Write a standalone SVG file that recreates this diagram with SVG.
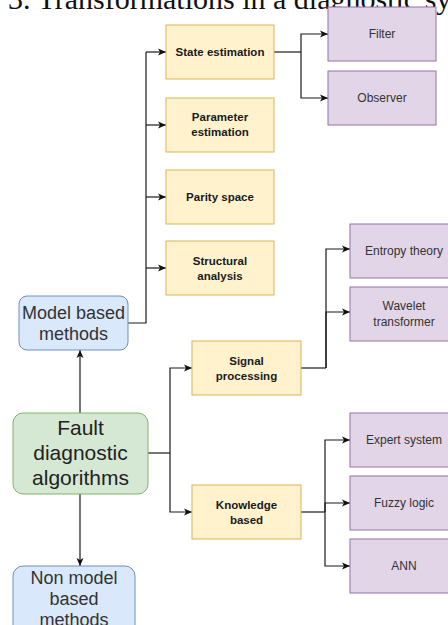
<svg xmlns="http://www.w3.org/2000/svg" width="448" height="625" viewBox="0 0 448 625">
<defs>
<marker id="arr" markerWidth="9" markerHeight="8" refX="8" refY="4" orient="auto" markerUnits="userSpaceOnUse">
<path d="M0,0.5 L8,4 L0,7.5 L2,4 z" fill="#111"/>
</marker>
<style>
.y{fill:#fff2cc;stroke:#d6b656;stroke-width:1}
.p{fill:#e1d5e7;stroke:#9673a6;stroke-width:1}
.b{fill:#dae8fc;stroke:#6c8ebf;stroke-width:1}
.g{fill:#d5e8d4;stroke:#82b366;stroke-width:1}
.yt{font-family:"Liberation Sans",Arial,sans-serif;font-size:11.5px;font-weight:bold;fill:#1a1a1a;text-anchor:middle}
.pt{font-family:"Liberation Sans",Arial,sans-serif;font-size:12px;fill:#333;text-anchor:middle}
.bt{font-family:"Liberation Sans",Arial,sans-serif;font-size:18px;fill:#333;text-anchor:middle}
.gt{font-family:"Liberation Sans",Arial,sans-serif;font-size:21px;fill:#222;text-anchor:middle}
.c{fill:none;stroke:#1a1a1a;stroke-width:1.2}
.ca{fill:none;stroke:#1a1a1a;stroke-width:1.2;marker-end:url(#arr)}
</style>
</defs>
<rect width="448" height="625" fill="#fff"/>
<text x="8" y="9" font-family="Liberation Serif,'Times New Roman',serif" font-size="30" fill="#111">3. Transformations in a diagnostic sy</text>

<g id="connectors">
<path class="c" d="M128,323 H146 V52"/>
<path class="ca" d="M146,52 H166"/>
<path class="ca" d="M146,125 H166"/>
<path class="ca" d="M146,197 H166"/>
<path class="ca" d="M146,268 H166"/>
<path class="c" d="M274,52 H301"/>
<path class="ca" d="M301,52 V34 H328"/>
<path class="ca" d="M301,52 V98 H328"/>
<path class="ca" d="M80,413 V350"/>
<path class="ca" d="M80,494 V566"/>
<path class="c" d="M148,453 H170"/>
<path class="ca" d="M170,453 V368 H192"/>
<path class="ca" d="M170,453 V512 H192"/>
<path class="c" d="M301,368 H326"/>
<path class="ca" d="M326,368 V249 H350"/>
<path class="ca" d="M326,368 V312 H350"/>
<path class="c" d="M301,512 H325"/>
<path class="ca" d="M325,512 V440 H350"/>
<path class="ca" d="M325,512 V503 H350"/>
<path class="ca" d="M325,512 V566 H350"/>
</g>

<g id="state-estimation"><rect class="y" x="166" y="25" width="108" height="54"/><text class="yt" x="220" y="56">State estimation</text></g>
<g id="parameter-estimation"><rect class="y" x="166" y="98" width="108" height="54"/><text class="yt" x="220" y="121">Parameter</text><text class="yt" x="220" y="136">estimation</text></g>
<g id="parity-space"><rect class="y" x="166" y="170" width="108" height="54"/><text class="yt" x="220" y="201">Parity space</text></g>
<g id="structural-analysis"><rect class="y" x="166" y="241" width="108" height="54"/><text class="yt" x="220" y="265">Structural</text><text class="yt" x="220" y="280">analysis</text></g>

<g id="filter"><rect class="p" x="328" y="7" width="108" height="54"/><text class="pt" x="382" y="38">Filter</text></g>
<g id="observer"><rect class="p" x="328" y="71" width="108" height="54"/><text class="pt" x="382" y="102">Observer</text></g>

<g id="model-based"><rect class="b" x="19" y="296" width="109" height="54" rx="8"/><text class="bt" x="73.5" y="319">Model based</text><text class="bt" x="73.5" y="340">methods</text></g>
<g id="fault-diagnostic"><rect class="g" x="13" y="413" width="135" height="81" rx="10"/><text class="gt" x="80.5" y="435">Fault</text><text class="gt" x="80.5" y="460">diagnostic</text><text class="gt" x="80.5" y="485">algorithms</text></g>
<g id="non-model-based"><rect class="b" x="13" y="566" width="122" height="75" rx="10"/><text class="bt" x="74" y="584">Non model</text><text class="bt" x="74" y="605">based</text><text class="bt" x="74" y="626">methods</text></g>

<g id="signal-processing"><rect class="y" x="192" y="341" width="109" height="54"/><text class="yt" x="246.5" y="365">Signal</text><text class="yt" x="246.5" y="380">processing</text></g>
<g id="knowledge-based"><rect class="y" x="192" y="485" width="109" height="54"/><text class="yt" x="246.5" y="509">Knowledge</text><text class="yt" x="246.5" y="524">based</text></g>

<g id="entropy-theory"><rect class="p" x="350" y="224" width="108" height="54"/><text class="pt" x="404" y="255">Entropy theory</text></g>
<g id="wavelet-transformer"><rect class="p" x="350" y="287" width="108" height="54"/><text class="pt" x="404" y="310">Wavelet</text><text class="pt" x="404" y="326">transformer</text></g>
<g id="expert-system"><rect class="p" x="350" y="413" width="108" height="54"/><text class="pt" x="404" y="444">Expert system</text></g>
<g id="fuzzy-logic"><rect class="p" x="350" y="476" width="108" height="54"/><text class="pt" x="404" y="507">Fuzzy logic</text></g>
<g id="ann"><rect class="p" x="350" y="539" width="108" height="54"/><text class="pt" x="404" y="570">ANN</text></g>
</svg>
